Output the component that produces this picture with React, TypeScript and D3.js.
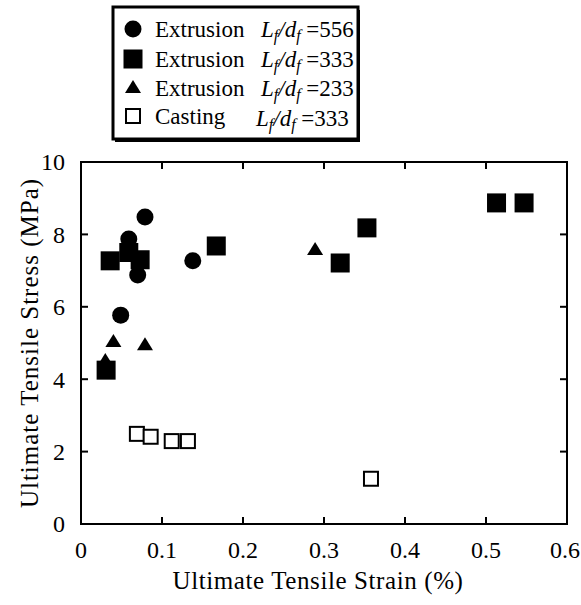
import React from "react";
import * as d3 from "d3";

const ext556X = [0.079, 0.059, 0.070, 0.138, 0.049];
const ext556Y = [8.48, 7.87, 6.88, 7.27, 5.77];

const ext333X = [0.036, 0.059, 0.073, 0.167, 0.353, 0.320, 0.513, 0.547, 0.031];
const ext333Y = [7.27, 7.5, 7.3, 7.68, 8.18, 7.21, 8.87, 8.87, 4.25];

const ext233X = [0.040, 0.079, 0.030, 0.289];
const ext233Y = [5.03, 4.94, 4.5, 7.57];

const castX = [0.069, 0.086, 0.112, 0.132, 0.358];
const castY = [2.49, 2.41, 2.29, 2.29, 1.25];

const xTicks = [0, 0.1, 0.2, 0.3, 0.4, 0.5, 0.6];
const yTicks = [0, 2, 4, 6, 8, 10];

const legendNames = ["Extrusion", "Extrusion", "Extrusion", "Casting"];
const legendRatios = ["556", "333", "233", "333"];
const legendShapes = ["circle", "square", "triangle", "open"];

const W = 581;
const H = 605;
const M = { left: 81, right: 567, top: 162, bottom: 524 };
const FONT = "'Liberation Serif', 'DejaVu Serif', serif";

function Marker({ shape, x, y }: { shape: string; x: number; y: number }) {
  if (shape === "circle") return <circle cx={x} cy={y} r={8.5} fill="#000" />;
  if (shape === "square") return <rect x={x - 9.5} y={y - 9.5} width={19} height={19} fill="#000" />;
  if (shape === "triangle") {
    const p = d3.path();
    p.moveTo(x, y - 8);
    p.lineTo(x + 8, y + 5);
    p.lineTo(x - 8, y + 5);
    p.closePath();
    return <path d={p.toString()} fill="#000" />;
  }
  return <rect x={x - 7} y={y - 7} width={14} height={14} fill="#fff" stroke="#000" strokeWidth={2} />;
}

export default function App() {
  const x = d3.scaleLinear().domain([0, 0.6]).range([M.left, M.right]);
  const y = d3.scaleLinear().domain([0, 10]).range([M.bottom, M.top]);
  const tl = 7;
  const tickFs = 24;

  const series = [
    { shape: "circle", xs: ext556X, ys: ext556Y },
    { shape: "triangle", xs: ext233X, ys: ext233Y },
    { shape: "square", xs: ext333X, ys: ext333Y },
    { shape: "open", xs: castX, ys: castY },
  ];

  const lg = { x: 113, y: 7, w: 245, h: 132 };
  const rowY = [29, 59, 88, 116];

  return (
    <svg width={W} height={H} style={{ display: "block", position: "absolute", left: 0, top: 0 }} fontFamily={FONT}>
      <rect width={W} height={H} fill="#fff" />
      <rect x={M.left} y={M.top} width={M.right - M.left} height={M.bottom - M.top} fill="none" stroke="#000" strokeWidth={2} />
      {xTicks.map((t) => (
        <g key={"xt" + t}>
          <line x1={x(t)} x2={x(t)} y1={M.bottom} y2={M.bottom - tl} stroke="#000" strokeWidth={2} />
          <line x1={x(t)} x2={x(t)} y1={M.top} y2={M.top + tl} stroke="#000" strokeWidth={2} />
          <text x={Math.min(x(t), W - 16)} y={M.bottom + 34} textAnchor="middle" fontSize={tickFs}>{t === 0 ? "0" : String(t)}</text>
        </g>
      ))}
      {yTicks.map((t) => (
        <g key={"yt" + t}>
          <line x1={M.left} x2={M.left + tl} y1={y(t)} y2={y(t)} stroke="#000" strokeWidth={2} />
          <line x1={M.right} x2={M.right - tl} y1={y(t)} y2={y(t)} stroke="#000" strokeWidth={2} />
          <text x={M.left - 16} y={y(t)} dy="0.35em" textAnchor="end" fontSize={tickFs}>{t}</text>
        </g>
      ))}
      <text x={(M.left + M.right) / 2 - 6} y={M.bottom + 65} textAnchor="middle" fontSize={25} letterSpacing={0.6}>Ultimate Tensile Strain (%)</text>
      <text transform={`translate(38,${(M.top + M.bottom) / 2}) rotate(-90)`} textAnchor="middle" fontSize={25} letterSpacing={1}>Ultimate Tensile Stress (MPa)</text>

      {series.map((s) =>
        s.xs.map((v, i) => <Marker key={s.shape + i} shape={s.shape} x={x(v)} y={y(s.ys[i])} />)
      )}

      <rect x={lg.x + 2} y={lg.y + 3} width={lg.w} height={lg.h} fill="#000" />
      <rect x={lg.x} y={lg.y} width={lg.w} height={lg.h} fill="#fff" stroke="#000" strokeWidth={3} />
      {legendNames.map((n, i) => (
        <g key={"lg" + i}>
          <Marker shape={legendShapes[i]} x={lg.x + 20} y={rowY[i]} />
          <text x={lg.x + 42} y={rowY[i] + 8} fontSize={23}>{n}</text>
          <text x={lg.x + (i === 3 ? 143 : 148)} y={rowY[i] + 8 + (i === 3 ? 2 : 0)} fontSize={23}>
            <tspan fontStyle="italic">L</tspan>
            <tspan fontStyle="italic" fontSize={16} dy={4}>f</tspan>
            <tspan fontStyle="italic" dy={-4}>/d</tspan>
            <tspan fontStyle="italic" fontSize={16} dy={4}>f</tspan>
            <tspan dy={-4}>{" =" + legendRatios[i]}</tspan>
          </text>
        </g>
      ))}
    </svg>
  );
}
